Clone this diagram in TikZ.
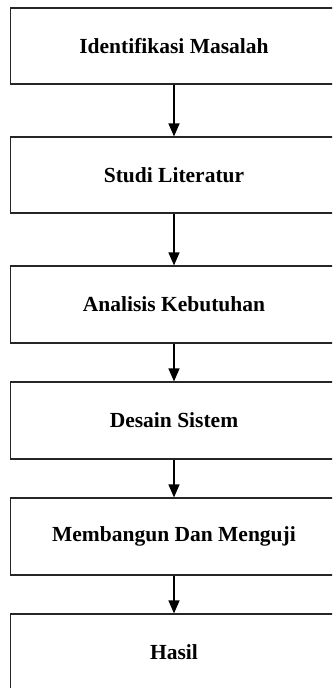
\documentclass[tikz,border=0pt]{standalone}
\usepackage{fontspec}
\setmainfont{Liberation Serif}
\usetikzlibrary{arrows.meta}
\begin{document}
\begin{tikzpicture}[x=1pt,y=-1pt,
  stepbox/.style={draw=black!85,line width=1.2pt,fill=white,inner sep=0pt,
    minimum width=327pt,font=\fontsize{21.5}{25}\selectfont\bfseries},
  flow/.style={line width=1.3pt,-{Triangle[length=13pt,width=11pt]}}]
\useasboundingbox (0,0) rectangle (332,688);
\clip (0,0) rectangle (332,688);
\node[stepbox,minimum height=76pt] (b1) at (174,46) {Identifikasi Masalah};
\node[stepbox,minimum height=76pt] (b2) at (174,175) {Studi Literatur};
\node[stepbox,minimum height=77pt] (b3) at (174,304.5) {Analisis Kebutuhan};
\node[stepbox,minimum height=77pt] (b4) at (174,420.5) {Desain Sistem};
\node[stepbox,minimum height=77pt] (b5) at (174,536.5) {Membangun Dan Menguji};
\node[stepbox,minimum height=77pt] (b6) at (174,652.5) {Hasil};
\draw[flow] (b1) -- (b2);
\draw[flow] (b2) -- (b3);
\draw[flow] (b3) -- (b4);
\draw[flow] (b4) -- (b5);
\draw[flow] (b5) -- (b6);
\end{tikzpicture}
\end{document}
